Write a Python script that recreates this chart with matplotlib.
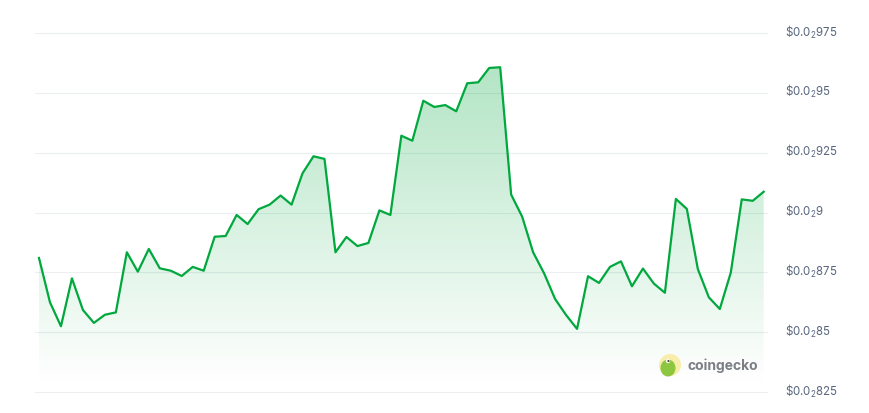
import numpy as np
import matplotlib.pyplot as plt
from matplotlib.patches import Circle, Ellipse
import matplotlib.transforms as mtransforms

plt.rcParams['font.family'] = ['Inter', 'DejaVu Sans']
plt.rcParams['mathtext.fontset'] = 'custom'
plt.rcParams['mathtext.rm'] = 'Inter'
plt.rcParams['mathtext.it'] = 'Inter'

# price values (in units of 0.001 USD)
prices = [
    8.810, 8.625, 8.525, 8.725, 8.593, 8.539, 8.573, 8.583, 8.834, 8.753,
    8.848, 8.767, 8.757, 8.735, 8.773, 8.757, 8.899, 8.902, 8.990, 8.952,
    9.014, 9.033, 9.071, 9.033, 9.164, 9.235, 9.224, 8.834, 8.898, 8.860,
    8.873, 9.009, 8.990, 9.321, 9.300, 9.467, 9.441, 9.449, 9.423, 9.540,
    9.544, 9.604, 9.607, 9.075, 8.983, 8.834, 8.746, 8.639, 8.572, 8.514,
    8.734, 8.706, 8.773, 8.796, 8.692, 8.766, 8.703, 8.665, 9.057, 9.015,
    8.764, 8.646, 8.597, 8.749, 9.055, 9.049, 9.087,
]
tick_vals = [8.25, 8.5, 8.75, 9.0, 9.25, 9.5, 9.75]
tick_labels = [r'\$0.0$_{2}$825', r'\$0.0$_{2}$85', r'\$0.0$_{2}$875', r'\$0.0$_{2}$9',
               r'\$0.0$_{2}$925', r'\$0.0$_{2}$95', r'\$0.0$_{2}$975']

y = np.array(prices) / 1000
x = np.arange(len(y))
green = '#00a83e'

fig = plt.figure(figsize=(8.7, 4.14), dpi=100)
ax = fig.add_axes([35 / 870, 19 / 414, 733 / 870, 375 / 414])

ymin, ymax = 8.242e-3, 9.8085e-3
ax.set_xlim(-0.364, 66.39)
ax.set_ylim(ymin, ymax)

# grid
for t in tick_vals:
    ax.axhline(t / 1000, color='#eceef1', lw=0.8, zorder=0)

# gradient fill under the line
fill_bottom = 8.271e-3
fill = ax.fill_between(x, y, fill_bottom, color='none', lw=0)
grad = np.zeros((256, 1, 4))
grad[..., 1] = 168 / 255
grad[..., 2] = 62 / 255
grad[:, 0, 3] = np.linspace(0.0, 0.30, 256)
top = y.max()
im = ax.imshow(grad, aspect='auto', origin='lower',
               extent=[x[0], x[-1], fill_bottom, top], zorder=1)
path = fill.get_paths()[0]
im.set_clip_path(path, transform=ax.transData)

ax.plot(x, y, color=green, lw=1.6, zorder=2)

# axis labels on the right
ax.yaxis.tick_right()
ax.set_yticks([t / 1000 for t in tick_vals])
ax.set_yticklabels(tick_labels, fontsize=8.3, color='#58667e')
ax.tick_params(axis='y', length=0, pad=12.5)
ax.set_xticks([])
shift = mtransforms.ScaledTranslation(0, 0.04, fig.dpi_scale_trans)
for lab in ax.get_yticklabels():
    lab.set_transform(lab.get_transform() + shift)
for s in ax.spines.values():
    s.set_visible(False)

# coingecko watermark
wm = fig.add_axes([0, 0, 1, 1], facecolor='none')
wm.set_xlim(0, 870)
wm.set_ylim(414, 0)
wm.axis('off')
wm.add_patch(Circle((670, 366), 11, color='#f8eeaa', lw=0))
wm.add_patch(Ellipse((668, 369), 15, 17, color='#8dc63f', lw=0))
wm.add_patch(Circle((668, 362), 2.2, color='white', lw=0))
wm.add_patch(Circle((668.5, 362), 1.1, color='#4a4a4a', lw=0))
wm.text(688, 366, 'coingecko', fontsize=10, fontweight='bold',
        color='#7b7f86', va='center', ha='left')

fig.savefig('out.png', dpi=100)
